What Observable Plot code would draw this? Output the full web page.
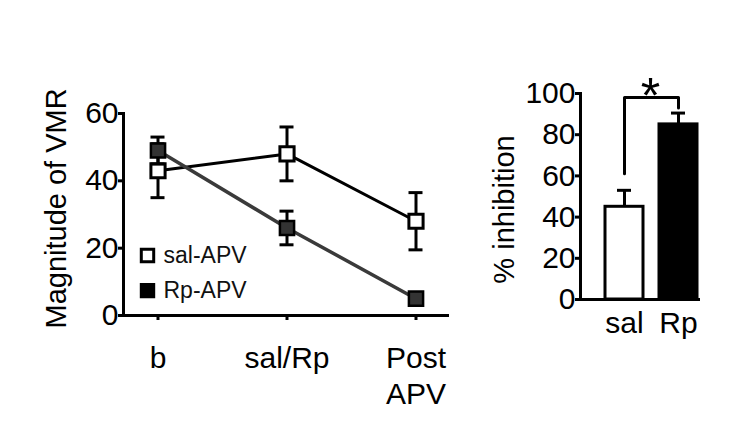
<!DOCTYPE html>
<html><head><meta charset="utf-8">
<script src="https://cdn.jsdelivr.net/npm/d3@7"></script>
<script src="https://cdn.jsdelivr.net/npm/@observablehq/plot@0.6"></script>
<style>
body{margin:0;background:#fff}
#wrap{display:flex;width:750px;height:425px;overflow:hidden}
</style></head><body><div id="wrap"></div>
<script>
// ---- data: left panel (Magnitude of VMR) ----
const timepoints = ["b", "sal/Rp", "Post APV"];
const seriesNames = ["sal-APV", "Rp-APV"];
const salMean = [43, 48, 28];
const salErr = [8, 8, 8.5];
const rpMean = [49, 26, 5];
const rpErr = [4, 5, 1];
const yTicksLeft = [0, 20, 40, 60];
// ---- data: right panel (% inhibition) ----
const groups = ["sal", "Rp"];
const inhibMean = [45, 85];
const inhibErr = [8, 5.5];
const yTicksRight = [0, 20, 40, 60, 80, 100];
const bracketY = [61, 98, 93];   // left leg bottom, bracket top, right leg bottom
const starY = 108;

const font = "'Liberation Sans', Arial, Helvetica, sans-serif";
const sal = timepoints.map((t, i) => ({t, m: salMean[i], e: salErr[i]}));
const rp = timepoints.map((t, i) => ({t, m: rpMean[i], e: rpErr[i]}));
const legend = seriesNames.map((s, i) => ({s, i}));
const capInset = 57.5;

const left = Plot.plot({
  width: 470, height: 425,
  marginLeft: 123, marginRight: 23, marginTop: 113, marginBottom: 110,
  style: {fontFamily: font, fontSize: "30px", color: "black", background: "transparent", overflow: "visible"},
  x: {type: "band", domain: timepoints, range: [92.5, 479.5], padding: 0},
  y: {domain: [0, 60]},
  marks: [
    Plot.frame({anchor: "left", strokeWidth: 3}),
    Plot.frame({anchor: "bottom", strokeWidth: 3}),
    Plot.axisY({ticks: yTicksLeft, tickSize: 5, tickPadding: 0, strokeWidth: 3, label: null}),
    Plot.axisX({tickSize: 5, tickPadding: 22, strokeWidth: 3, label: null, lineHeight: 1.2,
      tickFormat: d => d.replace(" ", "\n")}),
    Plot.text(["Magnitude of VMR"], {frameAnchor: "left", y: () => 31.8, rotate: -90, dx: -78,
      lineAnchor: "top", textAnchor: "middle", fontSize: 29}),
    // sal-APV
    Plot.ruleX(sal, {x: "t", y1: d => d.m - d.e, y2: d => d.m + d.e, strokeWidth: 3}),
    Plot.tickY(sal, {x: "t", y: d => d.m + d.e, insetLeft: capInset, insetRight: capInset, strokeWidth: 3}),
    Plot.tickY(sal, {x: "t", y: d => d.m - d.e, insetLeft: capInset, insetRight: capInset, strokeWidth: 3}),
    Plot.line(sal, {x: "t", y: "m", stroke: "black", strokeWidth: 3}),
    Plot.dot(sal, {x: "t", y: "m", symbol: "square", r: 8, fill: "white", stroke: "black", strokeWidth: 3}),
    // Rp-APV
    Plot.ruleX(rp, {x: "t", y1: d => d.m - d.e, y2: d => d.m + d.e, strokeWidth: 3}),
    Plot.tickY(rp, {x: "t", y: d => d.m + d.e, insetLeft: capInset, insetRight: capInset, strokeWidth: 3}),
    Plot.tickY(rp, {x: "t", y: d => d.m - d.e, insetLeft: capInset, insetRight: capInset, strokeWidth: 3}),
    Plot.line(rp, {x: "t", y: "m", stroke: "#3a3a3a", strokeWidth: 3.5}),
    Plot.dot(rp, {x: "t", y: "m", symbol: "square", r: 8, fill: "#333", stroke: "black", strokeWidth: 2.5}),
    // legend
    Plot.dot(legend, {frameAnchor: "left", y: d => 17.8 - d.i * 10.4, dx: 24, symbol: "square", r: 7,
      fill: d => d.i === 0 ? "white" : "black", stroke: "black", strokeWidth: 3}),
    Plot.text(legend, {frameAnchor: "left", y: d => 17.8 - d.i * 10.4, dx: 40, text: "s",
      textAnchor: "start", fontSize: 23, fill: "#111"})
  ]
});

const bars = groups.map((g, i) => ({g, m: inhibMean[i], e: inhibErr[i]}));
const bracket = [
  {g: groups[0], y: bracketY[0]}, {g: groups[0], y: bracketY[1]},
  {g: groups[1], y: bracketY[1]}, {g: groups[1], y: bracketY[2]}
];

const right = Plot.plot({
  width: 280, height: 425,
  marginLeft: 110, marginRight: 52, marginTop: 93, marginBottom: 126,
  style: {fontFamily: font, fontSize: "30px", color: "black", background: "transparent", overflow: "visible"},
  x: {type: "band", domain: groups, range: [134, 227], paddingInner: 0.3, paddingOuter: 0},
  y: {domain: [0, 100]},
  color: {type: "ordinal", domain: groups, range: ["white", "black"]},
  marks: [
    Plot.barY(bars, {x: "g", y: "m", fill: "g", stroke: "black", strokeWidth: 3}),
    Plot.ruleX(bars, {x: "g", y1: "m", y2: d => d.m + d.e, strokeWidth: 3}),
    Plot.tickY(bars, {x: "g", y: d => d.m + d.e, insetLeft: 12, insetRight: 12, strokeWidth: 3}),
    Plot.frame({anchor: "left", strokeWidth: 3}),
    Plot.frame({anchor: "bottom", strokeWidth: 3}),
    Plot.axisY({ticks: yTicksRight, tickSize: 5, tickPadding: 0, strokeWidth: 3, label: null}),
    Plot.axisX({tickSize: 0, tickPadding: 12, label: null}),
    Plot.text(["% inhibition"], {frameAnchor: "left", y: () => 43.7, rotate: -90, dx: -87,
      lineAnchor: "top", textAnchor: "middle", fontSize: 29}),
    Plot.line(bracket, {x: "g", y: "y", stroke: "black", strokeWidth: 3}),
    Plot.text(["*"], {frameAnchor: "top", y: () => starY, dx: 11, lineAnchor: "top", fontSize: 50})
  ]
});

const wrap = document.getElementById("wrap");
wrap.appendChild(left);
wrap.appendChild(right);
</script>
</body></html>
